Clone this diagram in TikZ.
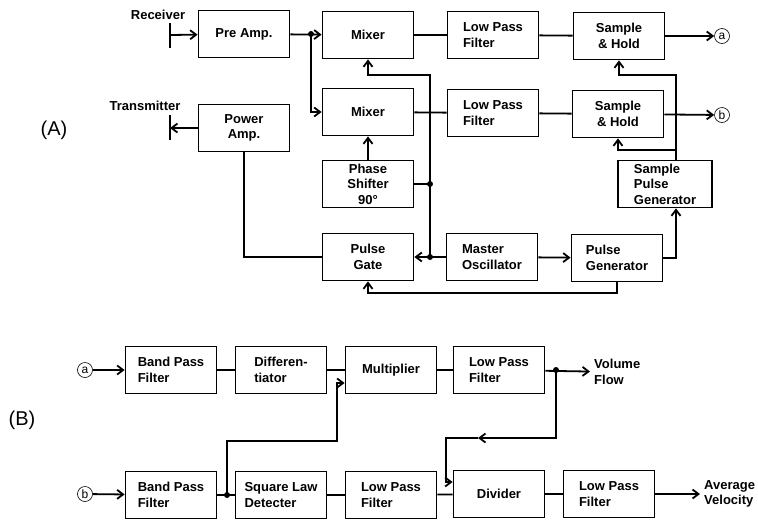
\documentclass[tikz,border=0pt]{standalone}
\usepackage{fontspec}
\setmainfont{Liberation Sans}
\usetikzlibrary{positioning,calc,arrows.meta}

\begin{document}
\begin{tikzpicture}[x=1pt, y=-1pt, line width=1.8pt, >={Straight Barb[length=6pt,width=9pt]},
  font=\bfseries\fontsize{13}{15.5}\selectfont,
  blk/.style = {draw, rectangle, minimum width=91pt, minimum height=47pt, inner sep=2pt},
  lft/.style = {blk, align=left},
  ctr/.style = {blk, align=center},
  io/.style = {draw, circle, line width=0.6pt, inner sep=1pt, minimum size=15pt, font=\mdseries\fontsize{12}{12}\selectfont},
  dot/.style = {circle, fill, inner sep=0pt, minimum size=6pt}]
  \useasboundingbox (0,0) rectangle (758,520);

  % part A
  \node (A) at (54,130) {\mdseries\fontsize{20}{20}\selectfont(A)};
  \node (rxl) at (158,15) {Receiver};
  \node (txl) at (145,106) {Transmitter};
  \node[ctr] (pre) at (244,34) {Pre Amp.};
  \node[ctr] (mixA) at (368,35) {Mixer};
  \node[lft] (lpfA) at (493,35) {Low Pass\\Filter};
  \node[ctr] (shA) at (619,36) {Sample\\\& Hold};
  \node[io] (oa) at (722,36) {a};
  \node[ctr] (pamp) at (244,128) {Power\\Amp.};
  \node[ctr] (mixB) at (368,112) {Mixer};
  \node[lft] (lpfB) at (493,113) {Low Pass\\Filter};
  \node[ctr] (shB) at (618,114) {Sample\\\& Hold};
  \node[io] (ob) at (722,115) {b};
  \node[ctr] (phase) at (368,184) {Phase\\Shifter\\90°};
  \node[lft, minimum width=94pt] (spg) at (665,184) {Sample\\Pulse\\Generator};
  \node[ctr] (gate) at (368,257) {Pulse\\Gate};
  \node[lft] (osc) at (492,257) {Master\\Oscillator};
  \node[lft] (pgen) at (617,258) {Pulse\\Generator};

  \coordinate (rx) at (170,35);
  \coordinate (tx) at (170,128);
  \coordinate (j1) at (311,34);
  \coordinate (j2) at (430,184);
  \coordinate (j3) at (430,257);
  \coordinate (ka) at (430,75);
  \coordinate (kr) at (676,75);
  \coordinate (kb) at (676,150);
  \coordinate (kg) at (617,293);

  \draw ($(rx)+(0,-12)$) -- ($(rx)+(0,13)$);
  \draw[->] (rx) -- (pre);
  \draw[->] (pre) -- (mixA);
  \draw[->] (j1) |- (mixB);
  \draw (mixA) -- (lpfA);
  \draw (lpfA) -- (shA);
  \draw[->] (shA) -- (oa);
  \draw (mixB) -- (lpfB);
  \draw (lpfB) -- (shB);
  \draw[->] (shB) -- (ob);
  \draw ($(tx)+(0,-13)$) -- ($(tx)+(0,12)$);
  \draw[->] (pamp) -- (tx);
  \draw (pamp) |- (gate);
  \draw[->] (phase) -- (mixB);
  \draw (phase) -- (j2);
  \draw[->] (j3) -- (ka) -| (mixA);
  \draw (osc) -- (j3);
  \draw[->] (j3) -- (gate);
  \draw[->] (osc) -- (pgen);
  \draw[->] (pgen) -| (spg.south -| kr);
  \draw[->] (spg.north -| kr) -- (kr) -| (shA);
  \draw[->] (kb) -| (shB);
  \draw[->] (pgen) -- (kg) -| (gate);
  \node[dot] at (j1) {};
  \node[dot] at (j2) {};
  \node[dot] at (j3) {};

  % part B
  \node (B) at (22,420) {\mdseries\fontsize{20}{20}\selectfont(B)};
  \node[io] (ia) at (85,370) {a};
  \node[io] (ib) at (85,494) {b};
  \node[lft] (bpfA) at (171,370) {Band Pass\\Filter};
  \node[lft] (diff) at (281,370) {Differen-\\tiator};
  \node[ctr] (mult) at (391,370) {Multiplier};
  \node[lft] (lpfV) at (499,370) {Low Pass\\Filter};
  \node[align=left, anchor=west] (vol) at (590,372) {Volume\\Flow};
  \node[lft] (bpfB) at (171,495) {Band Pass\\Filter};
  \node[lft] (sqr) at (281,495) {Square Law\\Detecter};
  \node[lft] (lpfM) at (391,495) {Low Pass\\Filter};
  \node[ctr] (divd) at (499,494) {Divider};
  \node[lft] (lpfW) at (609,494) {Low Pass\\Filter};
  \node[align=left, anchor=west] (vel) at (700,494) {Average\\Velocity};

  \coordinate (j4) at (556,370);
  \coordinate (j5) at (227,495);
  \coordinate (kv) at (446,438);
  \coordinate (km) at (478,438);
  \coordinate (kq) at (337,441);

  \draw[->] (ia) -- (bpfA);
  \draw (bpfA) -- (diff);
  \draw (diff) -- (mult);
  \draw (mult) -- (lpfV);
  \draw[->] (lpfV) -- (vol);
  \draw[->] (j4) |- (km);
  \draw[->] (km) -- (kv) |- ([yshift=12pt]divd.west);
  \draw[->] (ib) -- (bpfB);
  \draw (bpfB) -- (sqr);
  \draw[->] (j5) |- (kq) |- ([yshift=-13pt]mult.west);
  \draw (sqr) -- (lpfM);
  \draw (lpfM) -- (divd);
  \draw (divd) -- (lpfW);
  \draw[->] (lpfW) -- (vel);
  \node[dot] at (j4) {};
  \node[dot] at (j5) {};
\end{tikzpicture}
\end{document}
